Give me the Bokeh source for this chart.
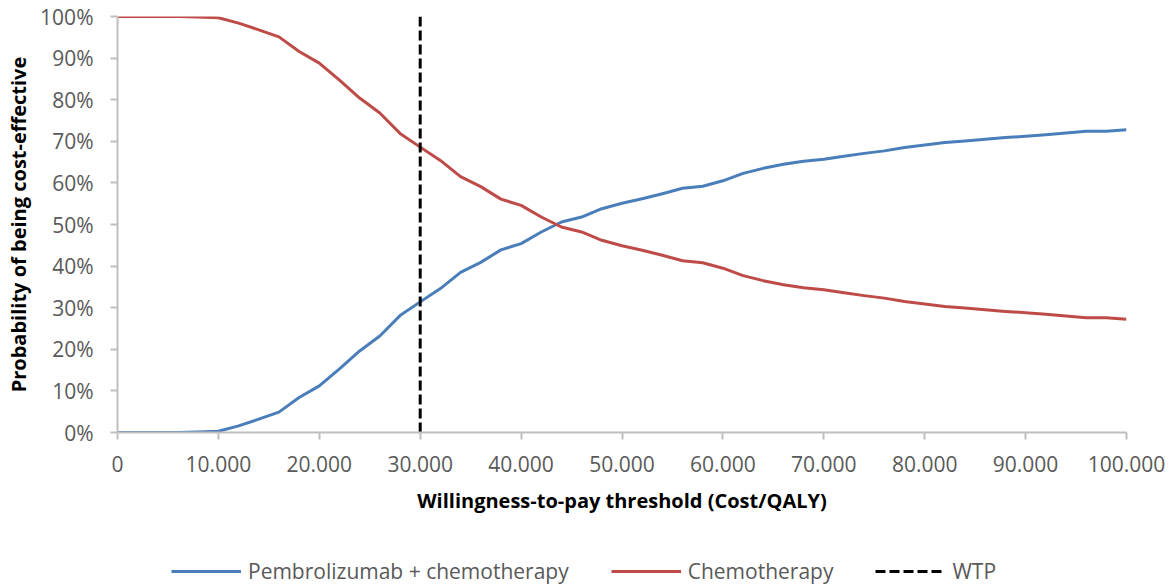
from bokeh.plotting import figure
from bokeh.models import Range1d, FixedTicker, Legend, LegendItem
from bokeh.layouts import column
from bokeh.embed import file_html
from bokeh.resources import INLINE

# ---- data ----
wtp_thresholds = list(range(0, 100001, 2000))
pembro_chemo = [0, 0, 0, 0, 0.1, 0.3, 1.6, 3.2, 4.9, 8.4, 11.2, 15.3, 19.6, 23.2, 28.1, 31.4,
                34.6, 38.5, 40.9, 43.9, 45.4, 48.2, 50.6, 51.8, 53.8, 55.1, 56.2, 57.4, 58.7,
                59.2, 60.5, 62.3, 63.5, 64.5, 65.2, 65.7, 66.4, 67.1, 67.7, 68.5, 69.1, 69.7,
                70.1, 70.5, 70.9, 71.2, 71.6, 72.0, 72.4, 72.4, 72.8]
chemo = [100, 100, 100, 100, 99.9, 99.7, 98.4, 96.8, 95.1, 91.6, 88.8, 84.7, 80.4, 76.8, 71.9,
         68.6, 65.4, 61.5, 59.1, 56.1, 54.6, 51.8, 49.4, 48.2, 46.2, 44.9, 43.8, 42.6, 41.3,
         40.8, 39.5, 37.7, 36.5, 35.5, 34.8, 34.3, 33.6, 32.9, 32.3, 31.5, 30.9, 30.3, 29.9,
         29.5, 29.1, 28.8, 28.4, 28.0, 27.6, 27.6, 27.2]
wtp_x = [30000, 30000]
wtp_y = [0, 100]

x_ticks = list(range(0, 100001, 10000))
x_tick_labels = ["0", "10.000", "20.000", "30.000", "40.000", "50.000",
                 "60.000", "70.000", "80.000", "90.000", "100.000"]
y_ticks = list(range(0, 101, 10))
y_tick_labels = ["0%", "10%", "20%", "30%", "40%", "50%", "60%", "70%", "80%", "90%", "100%"]

series_names = ["Pembrolizumab + chemotherapy", "Chemotherapy", "WTP"]
NO_DATA = [float("nan")]  # placeholder so legend-only renderers draw their swatches

FONT = "Open Sans"
TICK_COLOR = "#595959"
AXIS_COLOR = "#bfbfbf"
BLUE = "#4A7EBB"
RED = "#BE4B48"

p = figure(width=1176, height=545, output_backend="svg", toolbar_location=None,
           x_range=Range1d(0, 100000), y_range=Range1d(0, 100),
           min_border_left=117, min_border_right=50, min_border_top=16, min_border_bottom=113)
p.outline_line_color = None
p.xgrid.grid_line_color = None
p.ygrid.grid_line_color = None

r1 = p.line(wtp_thresholds, pembro_chemo, line_color=BLUE, line_width=3, line_join="round")
r2 = p.line(wtp_thresholds, chemo, line_color=RED, line_width=3, line_join="round")
r3 = p.line(wtp_x, wtp_y, line_color="black", line_width=3, line_dash="10 4")

for ax in (p.xaxis[0], p.yaxis[0]):
    ax.axis_line_color = AXIS_COLOR
    ax.axis_line_width = 2
    ax.major_tick_line_color = AXIS_COLOR
    ax.major_tick_line_width = 2
    ax.major_tick_in = 0
    ax.major_tick_out = 7
    ax.minor_tick_line_color = None
    ax.major_label_text_font = FONT
    ax.major_label_text_font_size = "21px"
    ax.major_label_text_color = TICK_COLOR
    ax.axis_label_text_font = FONT
    ax.axis_label_text_font_size = "20px"
    ax.axis_label_text_font_style = "bold"
    ax.axis_label_text_color = "black"

p.xaxis[0].ticker = FixedTicker(ticks=x_ticks)
p.xaxis[0].major_label_overrides = {t: l for t, l in zip(x_ticks, x_tick_labels)}
p.xaxis[0].major_label_standoff = 16
p.xaxis[0].axis_label = "Willingness-to-pay threshold (Cost/QALY)"
p.xaxis[0].axis_label_standoff = 12

p.yaxis[0].ticker = FixedTicker(ticks=y_ticks)
p.yaxis[0].major_label_overrides = {t: l for t, l in zip(y_ticks, y_tick_labels)}
p.yaxis[0].major_label_standoff = 17
p.yaxis[0].axis_label = "Probability of being cost-effective"
p.yaxis[0].axis_label_standoff = 5

# ---- legend strip below the chart (its frame is aligned with the chart's frame) ----
leg = figure(width=1176, height=40, output_backend="svg", toolbar_location=None,
             x_range=Range1d(0, 1), y_range=Range1d(0, 1),
             x_axis_location=None, y_axis_location=None,
             min_border_left=117, min_border_right=50, min_border_top=10, min_border_bottom=0)
leg.outline_line_color = None
leg.xgrid.grid_line_color = None
leg.ygrid.grid_line_color = None
l1 = leg.line(x=NO_DATA, y=NO_DATA, line_color=BLUE, line_width=3)
l2 = leg.line(x=NO_DATA, y=NO_DATA, line_color=RED, line_width=3)
l3 = leg.line(x=NO_DATA, y=NO_DATA, line_color="black", line_width=3, line_dash="10 4")

legend = Legend(items=[LegendItem(label=series_names[0], renderers=[l1]),
                       LegendItem(label=series_names[1], renderers=[l2]),
                       LegendItem(label=series_names[2], renderers=[l3])],
                orientation="horizontal", location=(54, 0),
                border_line_color=None, background_fill_alpha=0,
                label_text_font=FONT, label_text_font_size="21px", label_text_color=TICK_COLOR,
                glyph_width=70, glyph_height=20, label_standoff=7, spacing=42,
                padding=0, margin=0)
leg.add_layout(legend, "center")

layout = column(p, leg, spacing=0)
open("out.html", "w").write(file_html(layout, INLINE))
